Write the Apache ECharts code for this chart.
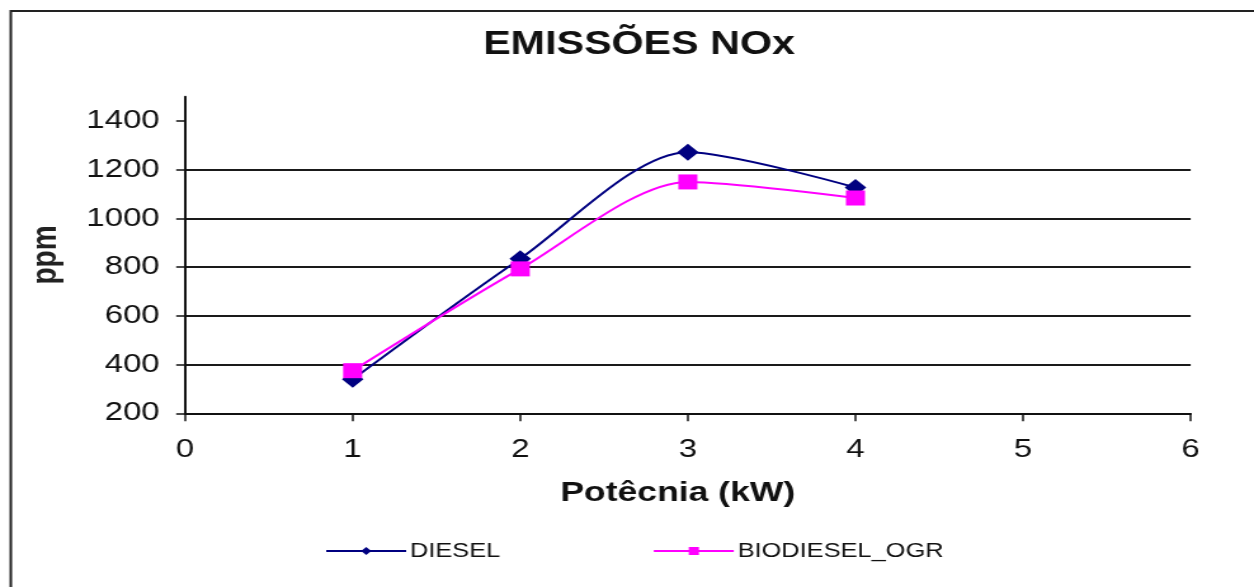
<!DOCTYPE html>
<html>
<head>
<meta charset="utf-8">
<script src="https://cdn.jsdelivr.net/npm/echarts@6/dist/echarts.min.js"></script>
<style>
  html, body { margin: 0; padding: 0; background: #fff; overflow: hidden; }
  #wrap { width: 1254px; height: 587px; overflow: hidden; position: relative; }
  #chart { width: 988px; height: 587px; transform: scaleX(1.26923); transform-origin: 0 0; }
</style>
</head>
<body>
<div id="wrap"><div id="chart"></div></div>
<script>
// ---- data ----
const chartTitle = 'EMISSÕES NOx';
const xAxisTitle = 'Potêcnia (kW)';
const yAxisTitle = 'ppm';
const seriesNames = ['DIESEL', 'BIODIESEL_OGR'];
const powerKW = [1, 2, 3, 4];
const dieselPpm = [340, 835, 1272, 1127];
const biodieselPpm = [375, 793, 1150, 1084];
const yTickValues = [200, 400, 600, 800, 1000, 1200, 1400];
const xTickValues = [0, 1, 2, 3, 4, 5, 6];

const toPairs = (xs, ys) => xs.map((x, i) => [x, ys[i]]);

const FONT = '"Liberation Sans", Arial, sans-serif';
const chart = echarts.init(document.getElementById('chart'), null, { renderer: 'canvas' });

chart.setOption({
  animation: false,
  backgroundColor: '#ffffff',
  textStyle: { fontFamily: FONT, color: '#111' },
  graphic: [{
    type: 'rect',
    shape: { x: 8.5, y: 11, width: 1400, height: 800 },
    style: { fill: 'none', stroke: '#222', lineWidth: 2 },
    silent: true, z: -1
  }],
  title: {
    text: chartTitle,
    left: 503.5,
    textAlign: 'center',
    top: 29,
    padding: 0,
    textStyle: { fontFamily: FONT, fontSize: 32.5, fontWeight: 'bold', color: '#111' }
  },
  legend: {
    left: 256,
    top: 541,
    itemWidth: 63,
    itemHeight: 10,
    itemGap: 120,
    padding: 0,
    textStyle: { fontFamily: FONT, fontSize: 20, color: '#111', padding: [0, 0, 0, -2] },
    data: seriesNames
  },
  grid: { left: 145.8, right: 49.9, top: 96.7, bottom: 173.7, containLabel: false },
  xAxis: {
    type: 'value',
    min: 0, max: 6, interval: 1,
    name: xAxisTitle,
    nameLocation: 'middle',
    nameGap: 66,
    nameTextStyle: { fontFamily: FONT, fontSize: 28, fontWeight: 'bold', color: '#111', padding: [0, 16, 0, 0] },
    axisLine: { lineStyle: { color: '#111', width: 2 } },
    axisTick: { show: true, inside: false, length: 8, lineStyle: { color: '#111', width: 1.5 } },
    axisLabel: { fontFamily: FONT, fontSize: 26, color: '#111', margin: 24, customValues: xTickValues },
    splitLine: { show: false }
  },
  yAxis: {
    type: 'value',
    min: 200, max: 1500, interval: 200,
    name: yAxisTitle,
    nameLocation: 'middle',
    nameGap: 96,
    nameRotate: 90,
    nameTextStyle: { fontFamily: FONT, fontSize: 28, fontWeight: 'bold', color: '#222' },
    axisLine: { show: true, lineStyle: { color: '#111', width: 2 } },
    axisTick: { show: true, inside: false, length: 7, customValues: yTickValues, lineStyle: { color: '#111', width: 1.5 } },
    axisLabel: { fontFamily: FONT, fontSize: 26, color: '#111', margin: 20, customValues: yTickValues,
                 formatter: (v) => String(v) },
    splitLine: { show: true, showMaxLine: false, lineStyle: { color: '#1a1a1a', width: 2 } }
  },
  series: [
    {
      name: seriesNames[0],
      type: 'line',
      data: toPairs(powerKW, dieselPpm),
      smooth: 0.28,
      symbol: 'diamond',
      symbolSize: 17,
      itemStyle: { color: '#000080' },
      lineStyle: { color: '#000080', width: 2 },
      z: 3
    },
    {
      name: seriesNames[1],
      type: 'line',
      data: toPairs(powerKW, biodieselPpm),
      smooth: 0.28,
      symbol: 'rect',
      symbolSize: 15,
      itemStyle: { color: '#ff00ff' },
      lineStyle: { color: '#ff00ff', width: 2 },
      z: 4
    }
  ]
});
</script>
</body>
</html>
